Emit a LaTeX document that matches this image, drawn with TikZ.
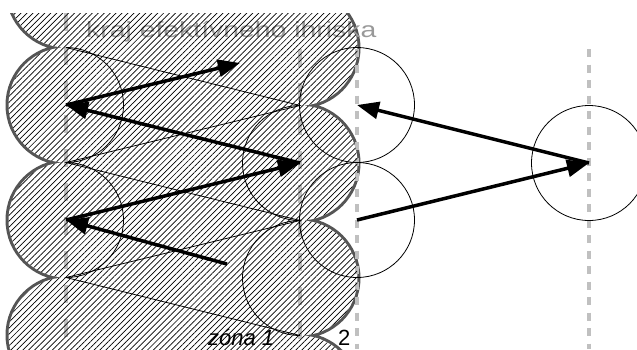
\documentclass[tikz,border=0pt]{standalone}
\usepackage{fontspec}
\setmainfont{Liberation Sans}
\usetikzlibrary{patterns.meta,arrows.meta}
\definecolor{bordergray}{HTML}{555555}
\definecolor{dashgray}{HTML}{C0C0C0}
\definecolor{textgray}{HTML}{999999}
\begin{document}
\begin{tikzpicture}[x=1pt,y=-1pt,
  outerline/.style={draw=bordergray,line width=6pt,line join=round},
  hatchfill/.style={pattern={Lines[angle=45,distance=4.2pt,line width=0.7pt]},pattern color=black},
  thinline/.style={draw=black,line width=0.8pt},
  fieldline/.style={draw=dashgray,line width=3.5pt,dash pattern=on 18pt off 16pt},
  zoneline/.style={draw=dashgray,line width=3.5pt,dash pattern=on 8pt off 7.5pt},
  move/.style={draw=black,line width=3.5pt,-{Triangle[length=22pt,width=17pt]}},
  lbl/.style={font=\fontsize{22}{22}\selectfont}]
\useasboundingbox (0,0) rectangle (637,349);
\def\rr{57.5}
% the swept region of the defender (one outline)
\def\region{(66,-67.5)
  arc[start angle=-90,end angle=-270,radius=\rr]
  arc[start angle=-90,end angle=-270,radius=\rr]
  arc[start angle=-90,end angle=-270,radius=\rr]
  arc[start angle=-90,end angle=-270,radius=\rr]
  -- (300,450.5)
  arc[start angle=90,end angle=-90,radius=\rr]
  arc[start angle=90,end angle=-90,radius=\rr]
  arc[start angle=90,end angle=-90,radius=\rr]
  arc[start angle=90,end angle=-90,radius=\rr]
  -- cycle}
% positions
\coordinate (L1) at (66,105);
\coordinate (L2) at (66,220);
\coordinate (M) at (300,163);
\coordinate (T) at (240,63);
\coordinate (S) at (227,264);
\coordinate (R1) at (357,105);
\coordinate (R2) at (357,220);
\coordinate (P) at (589,163);
\begin{scope}
\clip (0,13) rectangle (637,349);
% outer gray border, then white inside
\draw[outerline] \region;
\fill[white] \region;
% dashed lines
\draw[fieldline] (66,13) -- (66,349);
\draw[fieldline] (300,49) -- (300,349);
\draw[zoneline] (357,49) -- (357,349);
\draw[zoneline] (589,49) -- (589,349);
% labels under the hatch
\node[lbl,text=textgray,anchor=base west,inner sep=0pt] (edge) at (86,37) {\scalebox{1.29}[1]{kraj efektívneho ihriska}};
\node[lbl,anchor=base west,inner sep=0pt] (zone1) at (208,345) {\itshape zóna 1};
\node[lbl,anchor=base west,inner sep=0pt] (zone2) at (338,345) {2};
% hatch
\fill[hatchfill] \region;
% thin outlines
\draw[thinline] (66,105-\rr) arc[start angle=-90,end angle=90,radius=\rr];
\draw[thinline] (66,220-\rr) arc[start angle=-90,end angle=90,radius=\rr];
\draw[thinline] (300,163-\rr) arc[start angle=270,end angle=90,radius=\rr];
\draw[thinline] (300,278-\rr) arc[start angle=270,end angle=90,radius=\rr];
\draw[thinline] (R1) circle[radius=\rr];
\draw[thinline] (R2) circle[radius=\rr];
\draw[thinline] (P) circle[radius=\rr];
\draw[thinline] (66,47.5) -- (300,105.5) -- (66,162.5) -- (300,220.5) -- (66,277.5) -- (300,335.5);
\end{scope}
% movements
\draw[move] (S) -- (L2);
\draw[move] (L2) -- (M);
\draw[move] (M) -- (L1);
\draw[move] (L1) -- (T);
\draw[move] (R2) -- (P);
\draw[move] (P) -- (R1);
\end{tikzpicture}
\end{document}
